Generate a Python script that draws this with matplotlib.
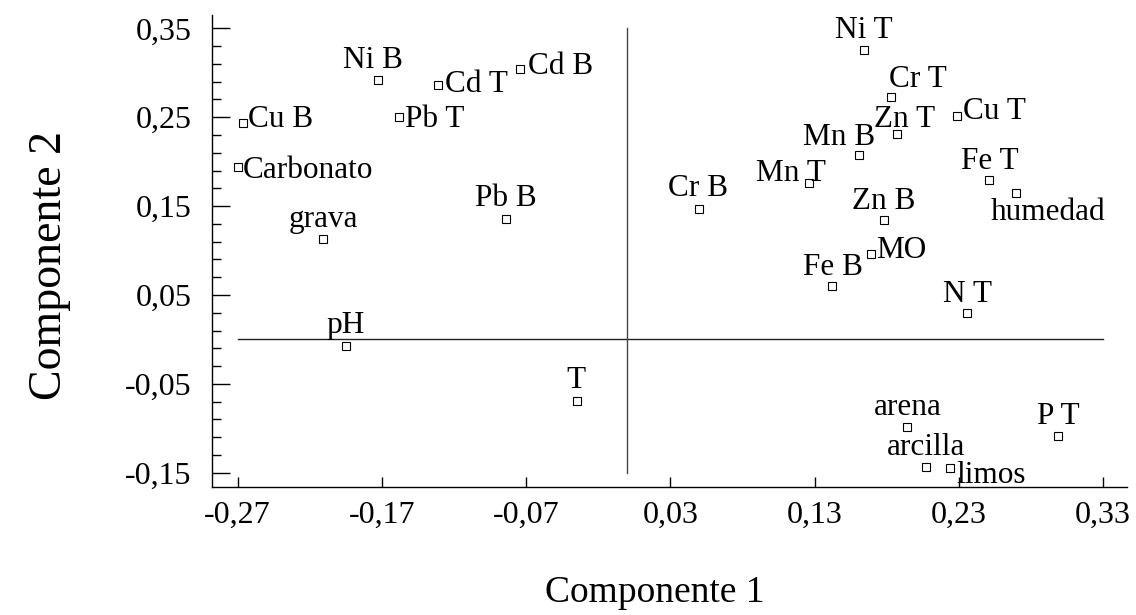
import matplotlib
matplotlib.use("Agg")
import matplotlib.pyplot as plt
from matplotlib.ticker import FixedLocator
import numpy as np

# ---- data ----
labels = ["Cu B", "Carbonato", "grava", "Ni B", "Pb T", "Cd T", "Cd B", "Pb B",
          "Cr B", "T", "pH", "Ni T", "Cr T", "Zn T", "Cu T", "Mn B", "Mn T",
          "Fe T", "humedad", "Zn B", "MO", "Fe B", "N T", "arena", "P T",
          "arcilla", "limos"]
comp1 = [-0.266, -0.270, -0.211, -0.173, -0.158, -0.131, -0.074, -0.084,
         0.050, -0.035, -0.195, 0.164, 0.183, 0.187, 0.229, 0.161, 0.126,
         0.251, 0.270, 0.178, 0.169, 0.142, 0.236, 0.194, 0.299,
         0.207, 0.224]
comp2 = [0.243, 0.194, 0.113, 0.292, 0.250, 0.286, 0.304, 0.136,
         0.147, -0.069, -0.007, 0.326, 0.273, 0.231, 0.251, 0.208, 0.176,
         0.179, 0.165, 0.134, 0.096, 0.060, 0.030, -0.099, -0.109,
         -0.144, -0.145]
xticks = [-0.27, -0.17, -0.07, 0.03, 0.13, 0.23, 0.33]
xticklabels = ["-0,27", "-0,17", "-0,07", "0,03", "0,13", "0,23", "0,33"]
yticks = [-0.15, -0.05, 0.05, 0.15, 0.25, 0.35]
yticklabels = ["-0,15", "-0,05", "0,05", "0,15", "0,25", "0,35"]
xlabel = "Componente 1"
ylabel = "Componente 2"

# ---- label layout (pixel offsets of text left/baseline from marker) ----
label_offsets = {
    "Cu B": (4.6, -3.4), "Carbonato": (5.4, -11.3), "grava": (-34, 11.6),
    "Ni B": (-34.4, 11.7), "Pb T": (5.5, -10), "Cd T": (6.7, -6.7),
    "Cd B": (7.7, -5), "Pb B": (-31, 13), "Cr B": (-30.7, 13.3),
    "T": (-10, 12.4), "pH": (-19, 12.4), "Ni T": (-28.3, 12),
    "Cr T": (-2.4, 10), "Zn T": (-23, 7.6), "Cu T": (6, -2.6),
    "Mn B": (-56, 9.3), "Mn T": (-52.3, 1.6), "Fe T": (-28, 11.7),
    "humedad": (-25.7, -27.3), "Zn B": (-31.3, 11.7), "MO": (5, -4.3),
    "Fe B": (-29, 11), "N T": (-24.4, 11), "arena": (-32.7, 12.7),
    "P T": (-21.7, 12.7), "arcilla": (-39, 12.7), "limos": (6.7, -14.4),
}

plt.rcParams['font.family'] = ['Liberation Serif', 'DejaVu Serif']

W, H = 1136, 615
fig = plt.figure(figsize=(W / 100, H / 100), dpi=100)
ax = fig.add_axes([212 / W, 1 - 486.7 / H, (1127 - 212) / W, (486.7 - 15) / H])

ax.set_xlim(-0.2878, 0.3467)
ax.set_ylim(-0.1656, 0.365)

# reference lines
ax.plot([-0.27, 0.33], [0, 0], color='#222222', lw=1.0, zorder=1)
ax.plot([0, 0], [-0.15, 0.35], color='#444444', lw=1.0, zorder=1)

ax.plot(comp1, comp2, linestyle='none', marker='s', markersize=5.2,
        markerfacecolor='white', markeredgecolor='black', markeredgewidth=0.8,
        zorder=3)

for lab, x, y in zip(labels, comp1, comp2):
    dx, dy = label_offsets[lab]
    ax.annotate(lab, (x, y), xytext=(dx, dy), textcoords='offset pixels',
                ha='left', va='baseline', fontsize=22.5, color='black', zorder=4)

for s in ['top', 'right']:
    ax.spines[s].set_visible(False)
for s in ['left', 'bottom']:
    ax.spines[s].set_linewidth(1.0)
    ax.spines[s].set_color('black')

ax.set_xticks(xticks)
ax.set_xticklabels(xticklabels)
ax.set_yticks(yticks)
ax.set_yticklabels(yticklabels)
ax.yaxis.set_minor_locator(FixedLocator(np.round(np.arange(-0.15, 0.351, 0.02), 3)))
ax.tick_params(axis='x', direction='in', length=7, width=1.0, pad=10.5,
               labelsize=23, colors='black')
ax.tick_params(axis='y', which='major', direction='in', length=13, width=1.0,
               pad=14.5, labelsize=23, colors='black')
ax.tick_params(axis='y', which='minor', direction='in', length=6.5, width=1.0)

fig.text(655 / W, 1 - 601.7 / H, xlabel, ha='center', va='baseline', fontsize=27)
fig.text(50 / W, 1 - 265 / H, ylabel, ha='center', va='center', rotation=90,
         fontsize=33)

fig.savefig("out.png", dpi=100)
